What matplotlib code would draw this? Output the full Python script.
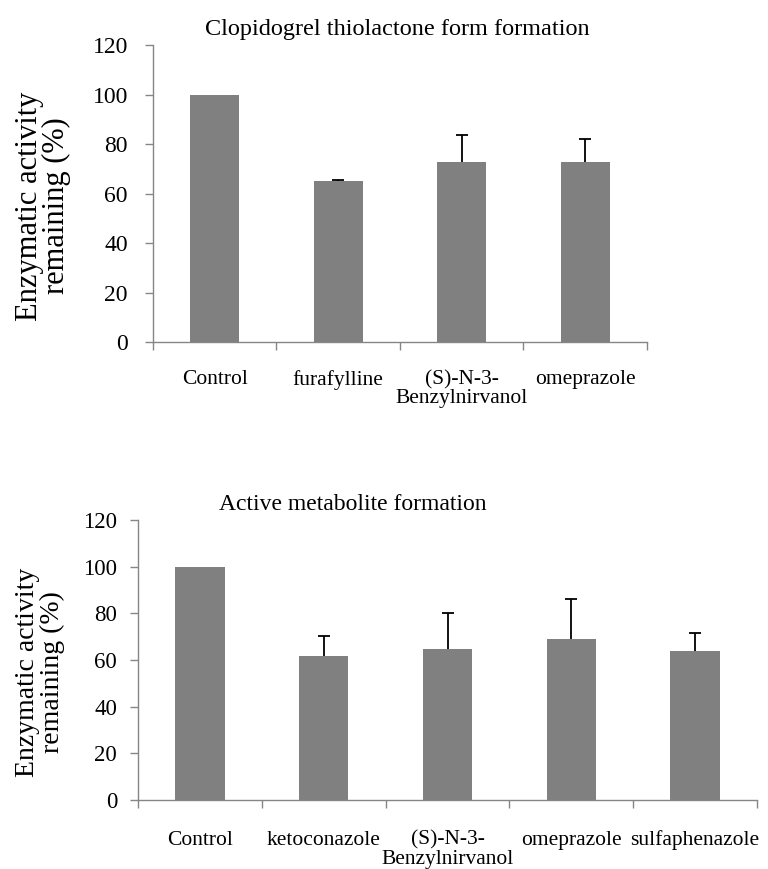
import matplotlib.pyplot as plt
import numpy as np

plt.rcParams['font.family'] = ['Liberation Serif', 'DejaVu Serif']

# top panel: clopidogrel thiolactone form formation
top_title = 'Clopidogrel thiolactone form formation'
top_labels = ['Control', 'furafylline', '(S)-N-3-\nBenzylnirvanol', 'omeprazole']
top_values = [100, 65.1, 72.9, 72.7]
top_errors = [0, 0.5, 10.7, 9.4]

# bottom panel: active metabolite formation
bot_title = 'Active metabolite formation'
bot_labels = ['Control', 'ketoconazole', '(S)-N-3-\nBenzylnirvanol', 'omeprazole', 'sulfaphenazole']
bot_values = [100, 61.7, 64.7, 68.9, 64.0]
bot_errors = [0, 8.6, 15.3, 17.2, 7.7]

y_ticks = [0, 20, 40, 60, 80, 100, 120]
bar_color = '#808080'
axis_color = '#868686'


def drawPanel(ax, labels, values, errors, tick_size, label_pad, ypad):
    n = len(labels)
    x = np.arange(n)
    ax.bar(x, values, width=0.4, color=bar_color, zorder=2)
    # only upper error bars, skip the ones with no error
    idx = [i for i in range(n) if errors[i] > 0]
    ex = x[idx]
    ev = np.array(values)[idx]
    ee = np.array(errors)[idx]
    _, caps, _ = ax.errorbar(ex, ev, yerr=[np.zeros(len(idx)), ee], fmt='none',
                             ecolor='black', elinewidth=1.3, capsize=4,
                             capthick=1.3, zorder=3)
    caps[0].set_visible(False)
    ax.set_xlim(-0.5, n - 0.5)
    ax.set_ylim(0, 120)
    ax.set_yticks(y_ticks)
    ax.set_yticklabels([str(v) for v in y_ticks], fontsize=tick_size)
    ax.set_xticks(np.arange(n + 1) - 0.5)
    ax.set_xticklabels([])
    ax.set_xticks(x, minor=True)
    ax.set_xticklabels(labels, minor=True, fontsize=15.5, linespacing=1.0)
    ax.tick_params(axis='x', which='major', direction='out', length=6,
                   color=axis_color, width=1)
    ax.tick_params(axis='x', which='minor', length=0, pad=label_pad)
    ax.tick_params(axis='y', direction='out', length=6, color=axis_color,
                   width=1, pad=ypad)
    for side in ['top', 'right']:
        ax.spines[side].set_visible(False)
    for side in ['left', 'bottom']:
        ax.spines[side].set_color(axis_color)
        ax.spines[side].set_linewidth(1)


fig = plt.figure(figsize=(7.68, 8.69), dpi=100)

ax1 = fig.add_axes([0.1992, 0.6064, 0.6432, 0.3418])
drawPanel(ax1, top_labels, top_values, top_errors, 17, 20, 12)
fig.text(397 / 768, 1 - 29 / 869, top_title, ha='center', va='center', fontsize=17.5)
fig.text(43 / 768, 1 - 206 / 869, 'Enzymatic activity\nremaining (%)',
         rotation=90, ha='center', va='center', fontsize=22, linespacing=0.95)

ax2 = fig.add_axes([0.1797, 0.0794, 0.806, 0.3222])
drawPanel(ax2, bot_labels, bot_values, bot_errors, 16.5, 22, 9)
fig.text(353 / 768, 1 - 504 / 869, bot_title, ha='center', va='center', fontsize=17)
fig.text(40 / 768, 1 - 672 / 869, 'Enzymatic activity\nremaining (%)',
         rotation=90, ha='center', va='center', fontsize=20, linespacing=0.95)

fig.savefig('out.png', dpi=100)
